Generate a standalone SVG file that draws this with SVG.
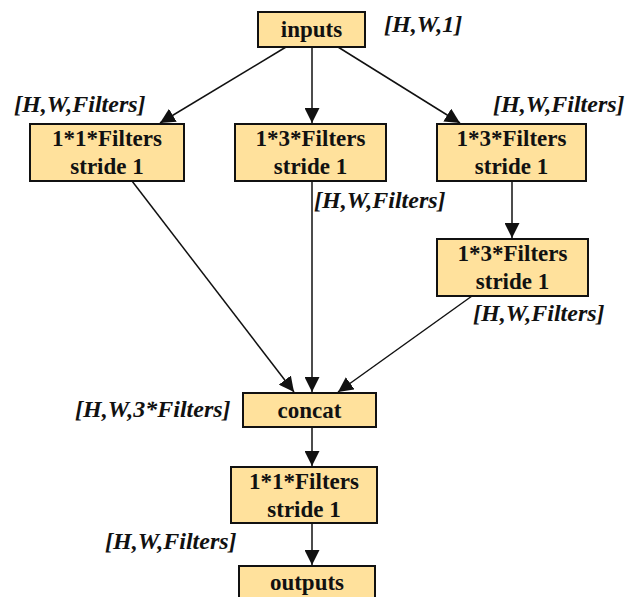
<svg xmlns="http://www.w3.org/2000/svg" width="641" height="597" viewBox="0 0 641 597">
  <style>
    .box { fill: #FFE19C; stroke: #111; stroke-width: 2; }
    .t { font-family: "Liberation Serif", "Times New Roman", serif; font-weight: bold; font-size: 23px; text-anchor: middle; fill: #111; }
    .dim { font-family: "Liberation Serif", "Times New Roman", serif; font-weight: bold; font-style: italic; font-size: 24px; fill: #111; }
    .edge { stroke: #111; stroke-width: 1.5; fill: none; marker-end: url(#arrow); }
  </style>
  <defs>
    <marker id="arrow" viewBox="0 0 10 10" refX="10" refY="5" markerWidth="15" markerHeight="15" markerUnits="userSpaceOnUse" orient="auto">
      <path d="M0,0 L10,5 L0,10 z" fill="#111"/>
    </marker>
  </defs>

  <g id="connectors">
    <line class="edge" x1="286" y1="47" x2="160" y2="123"/>
    <line class="edge" x1="312" y1="47" x2="312" y2="123"/>
    <line class="edge" x1="338" y1="47" x2="460" y2="123"/>
    <line class="edge" x1="512" y1="181" x2="512" y2="238"/>
    <line class="edge" x1="132" y1="181" x2="294" y2="392"/>
    <line class="edge" x1="312" y1="181" x2="312" y2="392"/>
    <line class="edge" x1="472" y1="296" x2="338" y2="392"/>
    <line class="edge" x1="312" y1="427" x2="312" y2="466"/>
    <line class="edge" x1="312" y1="523" x2="312" y2="565"/>
  </g>

  <g id="inputs">
    <rect class="box" x="258" y="12" width="107" height="35"/>
    <text class="t" x="311.5" y="37">inputs</text>
    <text class="dim" x="384" y="32">[H,W,1]</text>
  </g>

  <g id="conv1x1_a">
    <rect class="box" x="30" y="124" width="154" height="57"/>
    <text class="t" x="107" y="146">1*1*Filters</text>
    <text class="t" x="107" y="174">stride 1</text>
    <text class="dim" x="14" y="112">[H,W,Filters]</text>
  </g>

  <g id="conv1x3_a">
    <rect class="box" x="235" y="124" width="151" height="57"/>
    <text class="t" x="310.5" y="146">1*3*Filters</text>
    <text class="t" x="310.5" y="174">stride 1</text>
    <text class="dim" x="314" y="208">[H,W,Filters]</text>
  </g>

  <g id="conv1x3_b">
    <rect class="box" x="437" y="124" width="149" height="57"/>
    <text class="t" x="511.5" y="146">1*3*Filters</text>
    <text class="t" x="511.5" y="174">stride 1</text>
    <text class="dim" x="493" y="112">[H,W,Filters]</text>
  </g>

  <g id="conv1x3_c">
    <rect class="box" x="437" y="239" width="151" height="57"/>
    <text class="t" x="512.5" y="261">1*3*Filters</text>
    <text class="t" x="512.5" y="289">stride 1</text>
    <text class="dim" x="473" y="321">[H,W,Filters]</text>
  </g>

  <g id="concat">
    <rect class="box" x="243" y="393" width="133" height="34"/>
    <text class="t" x="309.5" y="418">concat</text>
    <text class="dim" x="75" y="417">[H,W,3*Filters]</text>
  </g>

  <g id="conv1x1_b">
    <rect class="box" x="231" y="467" width="146" height="56"/>
    <text class="t" x="304" y="489">1*1*Filters</text>
    <text class="t" x="304" y="517">stride 1</text>
    <text class="dim" x="105" y="549">[H,W,Filters]</text>
  </g>

  <g id="outputs">
    <rect class="box" x="239" y="566" width="136" height="40"/>
    <text class="t" x="307" y="590">outputs</text>
  </g>
</svg>
